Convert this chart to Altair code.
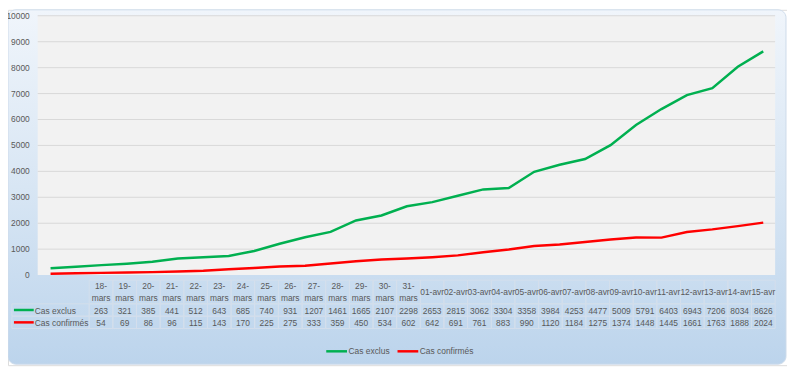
import altair as alt
import pandas as pd

dates = ["18-mars", "19-mars", "20-mars", "21-mars", "22-mars", "23-mars", "24-mars",
         "25-mars", "26-mars", "27-mars", "28-mars", "29-mars", "30-mars", "31-mars",
         "01-avr", "02-avr", "03-avr", "04-avr", "05-avr", "06-avr", "07-avr", "08-avr",
         "09-avr", "10-avr", "11-avr", "12-avr", "13-avr", "14-avr", "15-avr"]
cas_exclus = [263, 321, 385, 441, 512, 643, 685, 740, 931, 1207, 1461, 1665, 2107, 2298,
              2653, 2815, 3062, 3304, 3358, 3984, 4253, 4477, 5009, 5791, 6403, 6943, 7206, 8034, 8626]
cas_confirmes = [54, 69, 86, 96, 115, 143, 170, 225, 275, 333, 359, 450, 534, 602,
                 642, 691, 761, 883, 990, 1120, 1184, 1275, 1374, 1448, 1445, 1661, 1763, 1888, 2024]
series_names = ["Cas exclus", "Cas confirmés"]
series_colors = ["#00b050", "#ff0000"]
y_ticks = [0, 1000, 2000, 3000, 4000, 5000, 6000, 7000, 8000, 9000, 10000]

W, H = 787, 359
FONT = "Liberation Sans"
TXT = "#595959"
GRIDC = "#d9d9d9"
TABLEC = "#d3dfec"

rows = []
for d, a, b in zip(dates, cas_exclus, cas_confirmes):
    rows.append({"date": d, "serie": series_names[0], "value": a})
    rows.append({"date": d, "serie": series_names[1], "value": b})
df = pd.DataFrame(rows)
df_dates = pd.DataFrame({"date": dates})
df_ticks = pd.DataFrame({"v": y_ticks})
df_series = pd.DataFrame({"serie": series_names, "col": ["label", "label"],
                          "s0": ["a", "a"], "s1": ["b", "b"]})

yscale = alt.Scale(domain=[0, 10000], range=[268, 6])
colscale = alt.Scale(domain=series_names, range=series_colors)
xline = alt.Scale(type="point", domain=dates, range=[43, 763], padding=0)
xtab = alt.Scale(type="band", domain=dates, range=[82, 775], paddingInner=0, paddingOuter=0)
xlab = alt.Scale(type="band", domain=["label"], range=[4, 82], paddingInner=0, paddingOuter=0)
xsym = alt.Scale(type="point", domain=["a", "b"], range=[6, 26], padding=0)
yhead = alt.Scale(type="band", domain=["header"], range=[273, 297], paddingInner=0, paddingOuter=0)
yrows = alt.Scale(type="band", domain=series_names, range=[297, 322], paddingInner=0, paddingOuter=0)

one = alt.Data(values=[{"a": 1}])

frame = alt.Chart(one).mark_rect(
    cornerRadius=8,
    stroke="#cddbea",
    strokeWidth=1,
    fill=alt.Gradient(
        gradient="linear",
        stops=[alt.GradientStop(color="#f0f5fb", offset=0),
               alt.GradientStop(color="#d8e6f4", offset=0.5),
               alt.GradientStop(color="#bcd4ec", offset=1)],
        x1=0, x2=0, y1=0, y2=1,
    ),
).encode(x=alt.value(0), x2=alt.value(W - 1), y=alt.value(0), y2=alt.value(H - 1))

plotbg = alt.Chart(one).mark_rect(fill="#f2f2f2").encode(
    x=alt.value(30), x2=alt.value(775), y=alt.value(6), y2=alt.value(268)
)

grid = alt.Chart(df_ticks).transform_filter("datum.v > 0").mark_rule(
    color=GRIDC, strokeWidth=1
).encode(
    y=alt.Y("v:Q", scale=yscale, axis=None),
    x=alt.value(30), x2=alt.value(775),
)

ylabels = alt.Chart(df_ticks).mark_text(
    align="right", baseline="middle", font=FONT, fontSize=8.5, color=TXT
).encode(
    y=alt.Y("v:Q", scale=yscale, axis=None),
    x=alt.value(22),
    text=alt.Text("v:Q", format="d"),
)

lines = alt.Chart(df).mark_line(strokeWidth=2.5).encode(
    x=alt.X("date:N", scale=xline, sort=dates, axis=None),
    y=alt.Y("value:Q", scale=yscale, axis=None),
    color=alt.Color(
        "serie:N", scale=colscale, sort=series_names,
        legend=alt.Legend(
            title=None, orient="none", legendX=320, legendY=333, direction="horizontal",
            symbolType="stroke", symbolSize=440, symbolStrokeWidth=2.5,
            labelFont=FONT, labelFontSize=8.5, labelColor=TXT, labelOffset=0,
            columnPadding=2, padding=0,
        ),
    ),
)

head_cells = alt.Chart(df_dates).transform_calculate(h="'header'").mark_rect(
    fill=None, stroke=TABLEC, strokeWidth=1
).encode(
    x=alt.X("date:N", scale=xtab, sort=dates, axis=None),
    y=alt.Y("h:N", scale=yhead, axis=None),
)

head_text_mars = alt.Chart(df_dates).transform_filter(
    "indexof(datum.date, 'mars') >= 0"
).transform_calculate(
    h="'header'", lbl="replace(datum.date, '-mars', '-\\nmars')"
).mark_text(
    align="center", baseline="middle", font=FONT, fontSize=8.5, color=TXT,
    lineBreak="\n", lineHeight=12, dy=-6,
).encode(
    x=alt.X("date:N", scale=xtab, sort=dates, axis=None),
    y=alt.Y("h:N", scale=yhead, axis=None),
    text="lbl:N",
)

head_text_avr = alt.Chart(df_dates).transform_filter(
    "indexof(datum.date, 'mars') < 0"
).transform_calculate(h="'header'").mark_text(
    align="center", baseline="middle", font=FONT, fontSize=8.5, color=TXT, dy=0,
).encode(
    x=alt.X("date:N", scale=xtab, sort=dates, axis=None),
    y=alt.Y("h:N", scale=yhead, axis=None),
    text="date:N",
)

cells = alt.Chart(df).mark_rect(fill=None, stroke=TABLEC, strokeWidth=1).encode(
    x=alt.X("date:N", scale=xtab, sort=dates, axis=None),
    y=alt.Y("serie:N", scale=yrows, axis=None),
)

cell_text = alt.Chart(df).mark_text(
    align="center", baseline="middle", font=FONT, fontSize=8.5, color=TXT, dy=1
).encode(
    x=alt.X("date:N", scale=xtab, sort=dates, axis=None),
    y=alt.Y("serie:N", scale=yrows, axis=None),
    text=alt.Text("value:Q", format="d"),
)

label_cells = alt.Chart(df_series).mark_rect(fill=None, stroke=TABLEC, strokeWidth=1).encode(
    x=alt.X("col:N", scale=xlab, axis=None),
    y=alt.Y("serie:N", scale=yrows, axis=None),
)

label_text = alt.Chart(df_series).mark_text(
    align="left", baseline="middle", font=FONT, fontSize=8.5, color=TXT, dx=-16, dy=1
).encode(
    x=alt.X("col:N", scale=xlab, axis=None),
    y=alt.Y("serie:N", scale=yrows, axis=None),
    text="serie:N",
)

label_sym = alt.Chart(df_series).mark_rule(strokeWidth=2.5).encode(
    x=alt.X("s0:N", scale=xsym, axis=None),
    x2="s1:N",
    y=alt.Y("serie:N", scale=yrows, axis=None),
    color=alt.Color("serie:N", scale=colscale, sort=series_names, legend=None),
)

chart = alt.layer(
    frame, plotbg, grid, ylabels, lines,
    head_cells, head_text_mars, head_text_avr, cells, cell_text,
    label_cells, label_text, label_sym,
).resolve_scale(x="independent", y="independent").properties(
    width=W, height=H, padding=0,
    autosize=alt.AutoSizeParams(type="none"),
).configure_view(stroke=None).configure(background="white")

chart.save("out.html", embed_options={"renderer": "svg", "actions": False})
